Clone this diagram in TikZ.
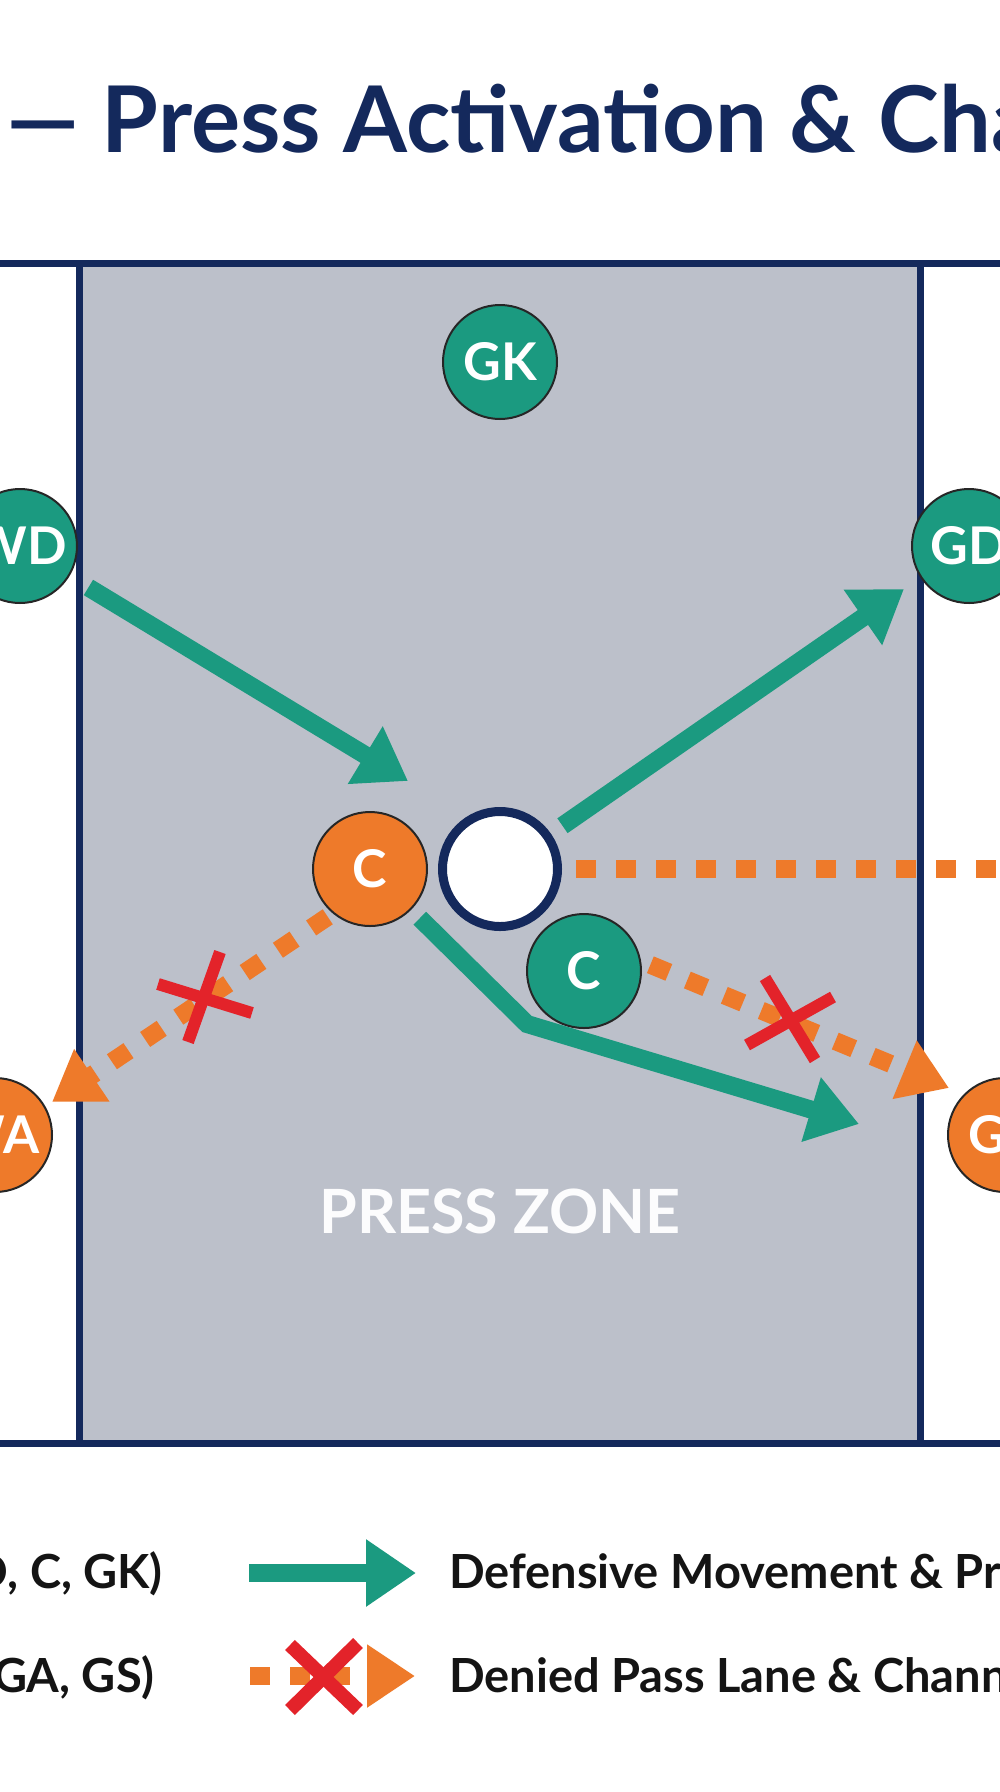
\documentclass[tikz,border=0pt]{standalone}
\usepackage{fontspec}
\setmainfont{Lato}
\usetikzlibrary{arrows.meta}

\definecolor{navy}{RGB}{20,41,92}
\definecolor{zonegray}{RGB}{188,192,202}
\definecolor{defgreen}{RGB}{27,154,128}
\definecolor{attorange}{RGB}{238,122,42}
\definecolor{denyred}{RGB}{227,35,42}
\definecolor{inkblack}{RGB}{20,20,20}

\tikzset{
  courtline/.style = {draw=navy, line width=7pt},
  player/.style = {circle, draw=black!85, line width=2pt, minimum size=114pt, inner sep=0pt,
    text=white, font=\fontsize{52pt}{52pt}\selectfont\bfseries},
  ballst/.style = {circle, draw=navy, fill=white, line width=9pt, minimum size=115pt, inner sep=0pt},
  movearrow/.style = {draw=defgreen, line width=18pt, -{Triangle[length=50pt,width=64pt]}},
  denylane/.style = {draw=attorange, line width=18pt, dash pattern=on 20pt off 20pt},
  lanetip/.style = {-{Triangle[length=48pt,width=60pt]}},
  denyx/.style = {draw=denyred, line width=12pt},
  legtext/.style = {anchor=base west, inner sep=0pt, text=inkblack,
    font=\fontsize{47pt}{47pt}\selectfont\bfseries},
}

\begin{document}
\begin{tikzpicture}[x=1pt, y=-1pt]
    \useasboundingbox (0,0) rectangle (1000,1792);
    \clip (0,0) rectangle (1000,1792);
    \fill[white] (0,0) rectangle (1000,1792);

    % title
    \node[anchor=base west, inner sep=0pt, text=navy, font=\fontsize{92pt}{92pt}\selectfont\bfseries]
        (title) at (6,152) {— Press Activation \& Cha};

    % court
    \fill[zonegray] (79,263) rectangle (920,1443);
    \draw[courtline] (0,263) -- (1000,263);
    \draw[courtline] (0,1443) -- (1000,1443);
    \draw[courtline] (79,263) -- (79,1443);
    \draw[courtline] (920,263) -- (920,1443);
    \node[inner sep=0pt, text=white!96!zonegray, font=\fontsize{61pt}{61pt}\selectfont\bfseries]
        (zone) at (500,1211) {PRESS ZONE};

    % players and ball
    \node[player, fill=defgreen] (gk) at (500,362) {GK};
    \node[player, fill=defgreen] (wd) at (20,546) {WD};
    \node[player, fill=defgreen] (gd) at (969,546) {GD};
    \node[player, fill=attorange] (catt) at (370,869) {C};
    \node[ballst] (ball) at (500,869) {};
    \node[player, fill=defgreen] (cdef) at (584,971) {C};
    \node[player, fill=attorange] (wa) at (-5,1135) {WA};
    \node[player, fill=attorange] (ga) at (1005,1135) {GA};

    \coordinate (m1) at (408,781);
    \coordinate (m2) at (904,589);
    \coordinate (m3bend) at (527,1024);
    \coordinate (m3) at (859,1124);
    \coordinate (lane1) at (1010,869);
    \coordinate (lane2) at (52,1102);
    \coordinate (lane3) at (949,1088);

    % defensive movement
    \draw[movearrow, shorten <=22pt] (wd) -- (m1);
    \draw[movearrow, shorten <=14pt] (ball) -- (m2);
    \draw[movearrow, shorten <=12pt] (catt) -- (m3bend) -- (m3);

    % denied lanes
    \draw[denylane, shorten <=14pt] (ball) -- (lane1);
    \draw[denylane, lanetip, shorten <=6pt] (catt.230) -- (lane2);
    \draw[denylane, lanetip, shorten <=10pt] (cdef.10) -- (lane3);

    \coordinate (x1) at (205,998);
    \draw[denyx] (x1) ++(-47,-14) -- ++(94,29);
    \draw[denyx] (x1) ++(15,-46) -- ++(-32,90);
    \coordinate (x2) at (790,1020);
    \draw[denyx] (x2) ++(-43,25) -- ++(86,-48);
    \draw[denyx] (x2) ++(-25,-42) -- ++(50,82);

    % legend
    \coordinate (lg1s) at (249,1573);
    \coordinate (lg1e) at (416,1573);
    \coordinate (lg2s) at (250,1676);
    \coordinate (lg2e) at (415,1676);
    \draw[movearrow] (lg1s) -- (lg1e);
    \draw[denylane, lanetip] (lg2s) -- (lg2e);
    \coordinate (x3) at (324,1677);
    \draw[denyx, line width=14pt] (x3) ++(-34,-32) -- ++(68,65);
    \draw[denyx, line width=14pt] (x3) ++(34,-34) -- ++(-68,67);

    \node[legtext, anchor=base east] (who1) at (163,1588) {D, C, GK)};
    \node[legtext, anchor=base east] (who2) at (155,1692) {GA, GS)};
    \node[legtext] (key1) at (449,1588) {Defensive Movement \& Pr};
    \node[legtext] (key2) at (449,1692) {Denied Pass Lane \& Chann};
\end{tikzpicture}
\end{document}
